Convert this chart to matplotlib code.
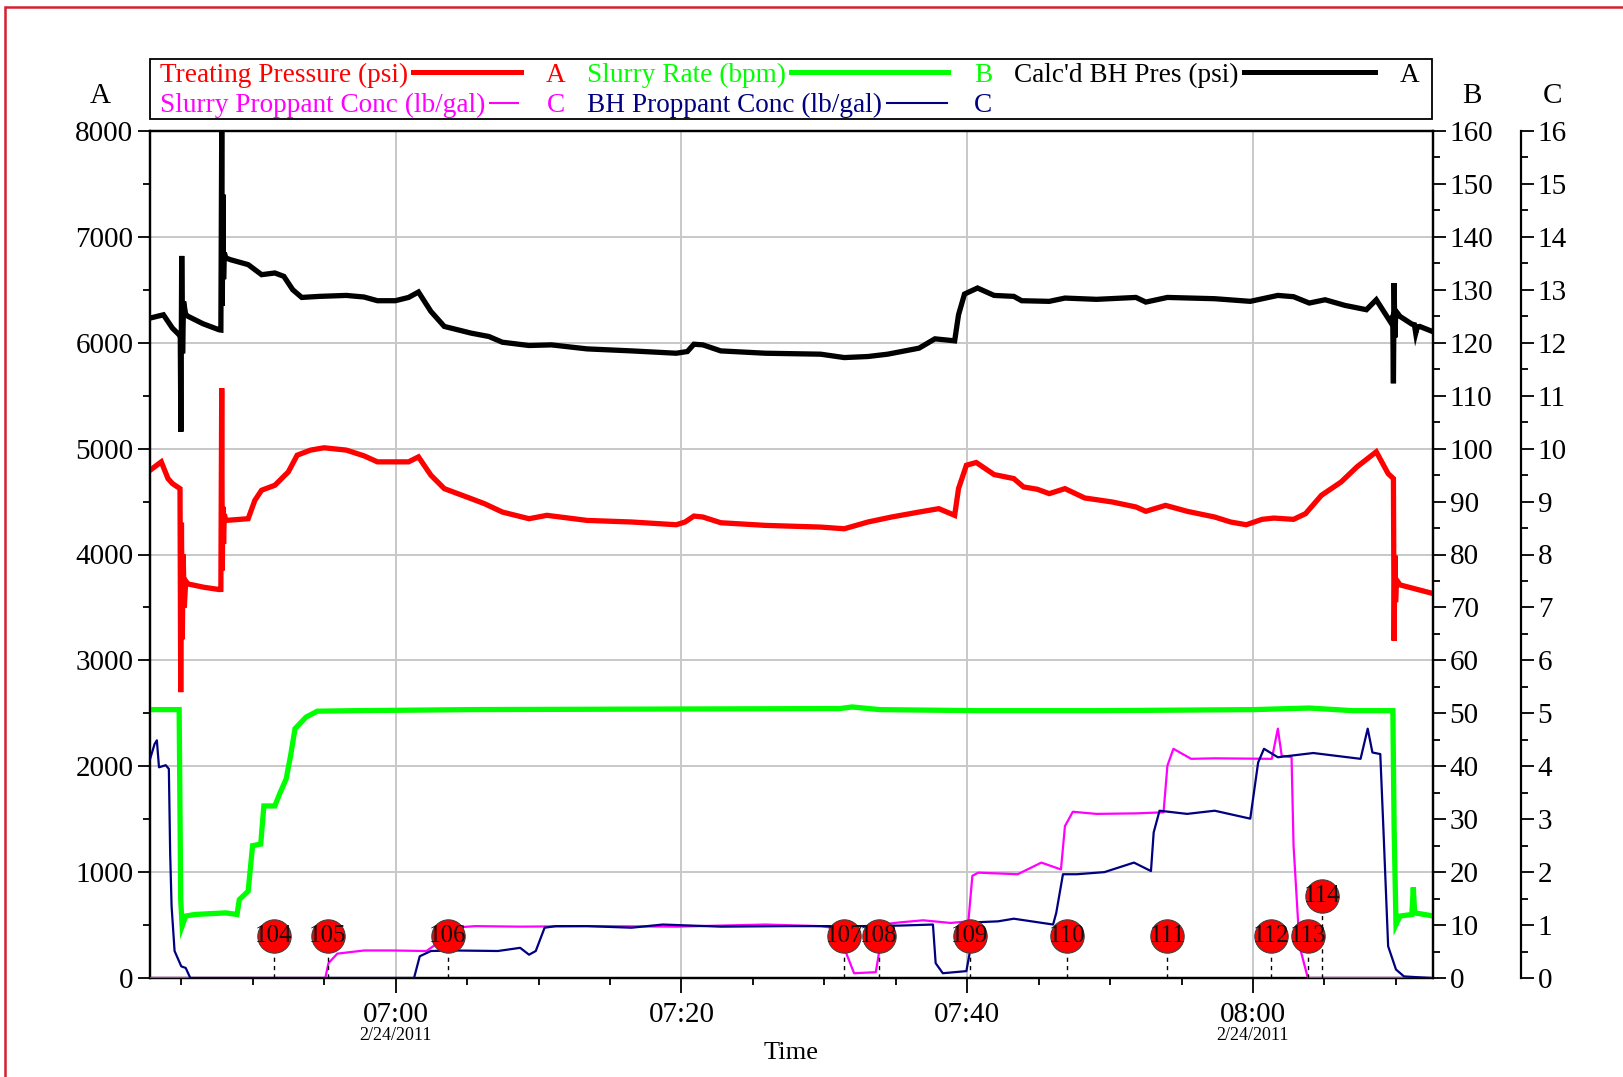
import matplotlib
matplotlib.use("Agg")
import matplotlib.pyplot as plt
import matplotlib.dates as mdates
from matplotlib.lines import Line2D
from matplotlib.patches import Rectangle
from matplotlib.ticker import MultipleLocator
import pandas as pd

plt.rcParams['font.family'] = ['Liberation Serif', 'DejaVu Serif']

# ---------------- data (time in minutes after 06:00 on 2/24/2011) ----------------
BASE = pd.Timestamp('2011-02-24 06:00')
X_START, X_END = 42.8, 132.6

treating_pressure = [  # psi, axis A
    (42.81, 4796), (43.59, 4875), (44.06, 4717), (44.37, 4670), (44.9, 4622), (44.95, 2700),
    (45.0, 4300), (45.06, 3200), (45.12, 4000), (45.2, 3500), (45.3, 3750), (45.46, 3722),
    (46.55, 3691), (47.64, 3669), (47.76, 3670), (47.82, 5570), (47.86, 3850), (47.9, 4450),
    (47.95, 4100), (48.0, 4380), (48.11, 4322), (49.67, 4338), (50.14, 4512), (50.61, 4607),
    (51.54, 4654), (52.48, 4780), (53.1, 4938), (54.04, 4986), (54.98, 5008), (56.54, 4986),
    (57.78, 4932), (58.72, 4875), (60.9, 4875), (61.59, 4922), (62.46, 4749), (63.4, 4622),
    (65.27, 4528), (66.21, 4480), (67.46, 4401), (69.33, 4338), (70.58, 4370), (73.39, 4322),
    (76.51, 4307), (79.63, 4281), (80.25, 4307), (80.87, 4363), (81.5, 4354), (82.75, 4300),
    (85.87, 4275), (89.74, 4259), (91.39, 4243), (93.05, 4307), (94.7, 4354), (96.63, 4401),
    (98.01, 4433), (99.12, 4370), (99.39, 4622), (99.94, 4843), (100.63, 4869), (101.88, 4755),
    (103.26, 4717), (103.94, 4638), (104.91, 4616), (105.74, 4575), (106.84, 4622), (108.22, 4534),
    (110.15, 4496), (111.81, 4449), (112.5, 4408), (113.88, 4464), (115.39, 4408), (117.32, 4354),
    (118.43, 4307), (119.53, 4281), (120.63, 4332), (121.46, 4344), (122.84, 4332), (123.68, 4386),
    (124.79, 4559), (126.17, 4685), (127.28, 4828), (128.63, 4970), (129.46, 4764), (129.83, 4717),
    (129.88, 3186), (129.93, 3991), (129.98, 3550), (130.05, 3760), (130.29, 3713), (132.44, 3637),
]

bh_pressure = [  # psi, axis A
    (42.81, 6233), (43.74, 6264), (44.37, 6138), (44.84, 6075), (44.92, 6050), (44.96, 5160),
    (45.02, 6820), (45.08, 5900), (45.15, 6390), (45.3, 6264), (45.46, 6250), (46.5, 6180),
    (47.64, 6122), (47.76, 6120), (47.82, 8000), (47.86, 6350), (47.9, 7400), (47.95, 6600),
    (48.0, 6850), (48.11, 6801), (48.42, 6785), (49.67, 6738), (50.61, 6643), (51.54, 6659),
    (52.17, 6627), (52.79, 6501), (53.42, 6428), (54.66, 6438), (56.54, 6447), (57.78, 6432),
    (58.72, 6397), (59.97, 6397), (60.9, 6428), (61.59, 6479), (62.46, 6296), (63.4, 6154),
    (65.27, 6091), (66.52, 6059), (67.46, 6005), (69.33, 5974), (70.89, 5980), (73.39, 5942),
    (76.51, 5923), (79.63, 5901), (80.41, 5917), (80.87, 5986), (81.5, 5980), (82.75, 5923),
    (85.87, 5901), (89.74, 5892), (91.39, 5860), (93.05, 5870), (94.43, 5892), (96.63, 5949),
    (97.74, 6037), (99.12, 6018), (99.39, 6264), (99.81, 6460), (100.72, 6517), (101.88, 6447),
    (103.26, 6438), (103.81, 6397), (105.74, 6391), (106.84, 6422), (109.05, 6410), (111.81, 6428),
    (112.5, 6384), (114.01, 6428), (117.32, 6416), (119.81, 6391), (121.74, 6447), (122.84, 6435),
    (123.94, 6375), (125.05, 6406), (126.43, 6353), (127.94, 6312), (128.63, 6406), (129.6, 6201),
    (129.78, 6250), (129.83, 5617), (129.88, 6564), (129.93, 6050), (130.0, 6300), (130.29, 6249),
    (131.12, 6176), (131.3, 6170), (131.39, 6091), (131.5, 6150), (131.67, 6154), (132.44, 6113),
]

slurry_rate = [  # bpm, axis B
    (42.81, 50.7), (44.84, 50.7), (44.95, 14.8), (45.05, 9.8), (45.3, 11.7), (45.93, 12.0),
    (48.11, 12.3), (48.89, 12.0), (49.05, 14.8), (49.67, 16.4), (49.98, 25.0), (50.55, 25.3),
    (50.77, 32.5), (51.54, 32.5), (51.86, 34.7), (52.33, 37.6), (52.64, 42.0), (52.95, 47.1),
    (53.73, 49.3), (54.51, 50.4), (57.16, 50.5), (65.27, 50.7), (91.1, 50.9), (91.94, 51.2),
    (93.88, 50.7), (100.77, 50.5), (109.05, 50.5), (120.08, 50.7), (123.94, 51.0), (126.98, 50.5),
    (129.79, 50.5), (129.88, 28.1), (130.01, 10.1), (130.29, 11.7), (131.12, 12.0), (131.22, 17.1),
    (131.32, 12.3), (132.44, 11.8),
]

slurry_prop_conc = [  # lb/gal, axis C
    (42.81, 0.0), (55.07, 0.0), (55.29, 0.28), (55.91, 0.46), (57.78, 0.52), (59.66, 0.52),
    (62.15, 0.51), (62.78, 0.63), (64.02, 0.95), (65.58, 0.98), (68.71, 0.97), (73.39, 0.98),
    (79.63, 0.97), (85.87, 1.01), (89.74, 0.98), (91.39, 0.92), (91.53, 0.47), (92.08, 0.09),
    (93.6, 0.11), (93.82, 0.47), (94.01, 1.01), (95.26, 1.05), (96.91, 1.09), (98.84, 1.04),
    (100.08, 1.07), (100.36, 1.93), (100.77, 1.99), (103.53, 1.96), (105.19, 2.18), (106.56, 2.05),
    (106.84, 2.87), (107.39, 3.14), (109.05, 3.1), (111.81, 3.11), (113.74, 3.13), (114.01, 4.01),
    (114.43, 4.33), (115.67, 4.14), (117.32, 4.15), (121.32, 4.14), (121.74, 4.71), (122.01, 4.2),
    (122.7, 4.17), (122.84, 2.5), (123.26, 0.6), (123.81, 0.03), (123.9, 0.0), (132.44, 0.0),
]

bh_prop_conc = [  # lb/gal, axis C
    (42.81, 4.14), (43.12, 4.42), (43.28, 4.49), (43.43, 3.98), (43.9, 4.02), (44.12, 3.95),
    (44.21, 2.37), (44.31, 1.36), (44.52, 0.51), (44.99, 0.22), (45.3, 0.19), (45.62, 0.0),
    (61.28, 0.0), (61.68, 0.41), (62.46, 0.51), (64.02, 0.52), (67.15, 0.51), (68.71, 0.57),
    (69.33, 0.44), (69.8, 0.51), (70.42, 0.95), (71.2, 0.98), (73.39, 0.98), (76.5, 0.95),
    (78.69, 1.01), (82.75, 0.97), (87.43, 0.98), (92.5, 0.98), (95.26, 0.99), (97.6, 1.01),
    (97.79, 0.28), (98.29, 0.09), (99.94, 0.13), (100.17, 0.47), (100.36, 1.05), (102.15, 1.07),
    (103.26, 1.12), (106.01, 1.01), (106.23, 1.23), (106.7, 1.96), (107.67, 1.96), (109.6, 2.0),
    (111.67, 2.18), (112.86, 2.02), (113.05, 2.75), (113.46, 3.16), (115.39, 3.1), (117.32, 3.16),
    (119.81, 3.01), (120.36, 4.07), (120.77, 4.33), (121.74, 4.17), (124.22, 4.25), (127.53, 4.14),
    (128.03, 4.71), (128.36, 4.26), (128.91, 4.23), (129.13, 2.81), (129.46, 0.6), (130.01, 0.16),
    (130.57, 0.03), (132.44, 0.0),
]

event_labels = ['104', '105', '106', '107', '108', '109', '110', '111', '112', '113', '114']
event_times = [51.45, 55.23, 63.65, 91.39, 93.82, 100.17, 106.98, 114.01, 121.27, 123.86, 124.86]
event_levels = [0.8, 0.8, 0.8, 0.8, 0.8, 0.8, 0.8, 0.8, 0.8, 0.8, 1.55]  # axis C units

date_label_times = [60, 120]
date_label_text = '2/24/2011'

legend_rows = [
    [("Treating Pressure (psi)", '#ff0000', 3.6, 'A'), ("Slurry Rate (bpm)", '#00ff00', 3.6, 'B'),
     ("Calc'd BH Pres (psi)", '#000000', 3.6, 'A')],
    [("Slurry Proppant Conc (lb/gal)", '#ff00ff', 1.5, 'C'), ("BH Proppant Conc (lb/gal)", '#000080', 1.5, 'C')],
]


def to_time(mins):
    return [BASE + pd.Timedelta(minutes=m) for m in mins]


def split(series):
    return to_time([p[0] for p in series]), [p[1] for p in series]


# ---------------- figure ----------------
W, H = 1623, 1077
fig = plt.figure(figsize=(W / 100, H / 100), dpi=100)
fig.patch.set_facecolor('white')


def fx(px):
    return px / W


def fy(py):
    return 1 - py / H


L, R, T, B = 150, 1433, 131, 978
ax = fig.add_axes([fx(L), fy(B), (R - L) / W, (B - T) / H])
ax2 = ax.twinx()
ax3 = ax.twinx()
ax3.spines['right'].set_position(('axes', (1521 - L) / (R - L)))
for s in ['left', 'top', 'bottom']:
    ax3.spines[s].set_visible(False)

# lines
t, v = split(bh_pressure)
ax.plot(t, v, color='black', lw=3.8, solid_joinstyle='miter', zorder=3)
t, v = split(treating_pressure)
ax.plot(t, v, color='#ff0000', lw=3.8, solid_joinstyle='miter', zorder=3)
t, v = split(slurry_rate)
ax2.plot(t, v, color='#00ff00', lw=3.8, solid_joinstyle='miter')
t, v = split(slurry_prop_conc)
ax3.plot(t, v, color='#ff00ff', lw=1.6)
t, v = split(bh_prop_conc)
ax3.plot(t, v, color='#000080', lw=1.6)

# events
et = to_time(event_times)
for tt, lv, lab in zip(et, event_levels, event_labels):
    ax3.plot([tt, tt], [0, lv - 0.36], color='black', lw=1.0, ls=(0, (3, 3)), zorder=5)
    ax3.plot([tt], [lv], marker='o', ms=24, mfc='#ff0000', mec='#404040', mew=0.8,
             ls='none', zorder=6)
    ax3.text(tt, lv, lab, ha='center', va='center', fontsize=18, color='#111111', zorder=7)

# axes limits / ticks
xmin, xmax = to_time([X_START, X_END])
ax.set_xlim(xmin, xmax)
ax.set_ylim(0, 8000)
ax2.set_ylim(0, 160)
ax3.set_ylim(0, 16)

ax.xaxis.set_major_locator(mdates.MinuteLocator(byminute=[0, 20, 40]))
ax.xaxis.set_minor_locator(mdates.MinuteLocator(byminute=range(0, 60, 5)))
ax.xaxis.set_major_formatter(mdates.DateFormatter('%H:%M'))
ax.yaxis.set_major_locator(MultipleLocator(1000))
ax.yaxis.set_minor_locator(MultipleLocator(500))
ax2.yaxis.set_major_locator(MultipleLocator(10))
ax2.yaxis.set_minor_locator(MultipleLocator(5))
ax3.yaxis.set_major_locator(MultipleLocator(1))
ax3.yaxis.set_minor_locator(MultipleLocator(0.5))

for a in (ax, ax2, ax3):
    a.tick_params(which='major', direction='out', length=9, width=1.3, labelsize=21, pad=3)
    a.tick_params(which='minor', direction='out', length=5, width=1.3)
    for s in a.spines.values():
        s.set_linewidth(1.6)
ax.tick_params(axis='x', which='major', length=11, pad=6)

ax.grid(True, which='major', color='#c8c8c8', lw=1.4)
ax.set_axisbelow(True)

for d in to_time(date_label_times):
    ax.text(d, -0.068, date_label_text, transform=ax.get_xaxis_transform(),
            ha='center', va='center', fontsize=13)

fig.text(fx(791), fy(1053), 'Time', ha='center', va='center', fontsize=19)
fig.text(fx(100), fy(96), 'A', ha='center', va='center', fontsize=21)
fig.text(fx(1472), fy(96), 'B', ha='center', va='center', fontsize=21)
fig.text(fx(1553), fy(96), 'C', ha='center', va='center', fontsize=21)

# ---------------- legend box ----------------
fig.patches.append(Rectangle((fx(150), fy(119)), (1432 - 150) / W, 60 / H, transform=fig.transFigure,
                             fill=False, edgecolor='black', lw=1.3))
renderer = fig.canvas.get_renderer()
col_x = [160, 587, 1014]
line_end = [[521, 948, 1375], [518, 947]]
letter_x = [556, 983, 1410]
row_y = [75.5, 105.5]
for r, row in enumerate(legend_rows):
    for c, (lab, col, lw, axis_letter) in enumerate(row):
        txt = fig.text(fx(col_x[c]), fy(row_y[r]), lab, color=col, fontsize=19.6,
                       ha='left', va='center')
        ext = txt.get_window_extent(renderer)
        x0 = ext.x1 + 5
        x1 = max(line_end[r][c], x0 + 20)
        fig.lines.append(Line2D([x0 / W, x1 / W], [fy(row_y[r] - 3)] * 2, color=col, lw=lw,
                                transform=fig.transFigure))
        fig.text(fx(letter_x[c]), fy(row_y[r]), axis_letter, color=col, fontsize=19.6,
                 ha='center', va='center')

# red outer border (top/left visible)
fig.patches.append(Rectangle((fx(5), -0.1), 1.2, fy(7) + 0.1, transform=fig.transFigure,
                             fill=False, edgecolor='#d42030', lw=1.8))

fig.savefig('out.png', dpi=100)
